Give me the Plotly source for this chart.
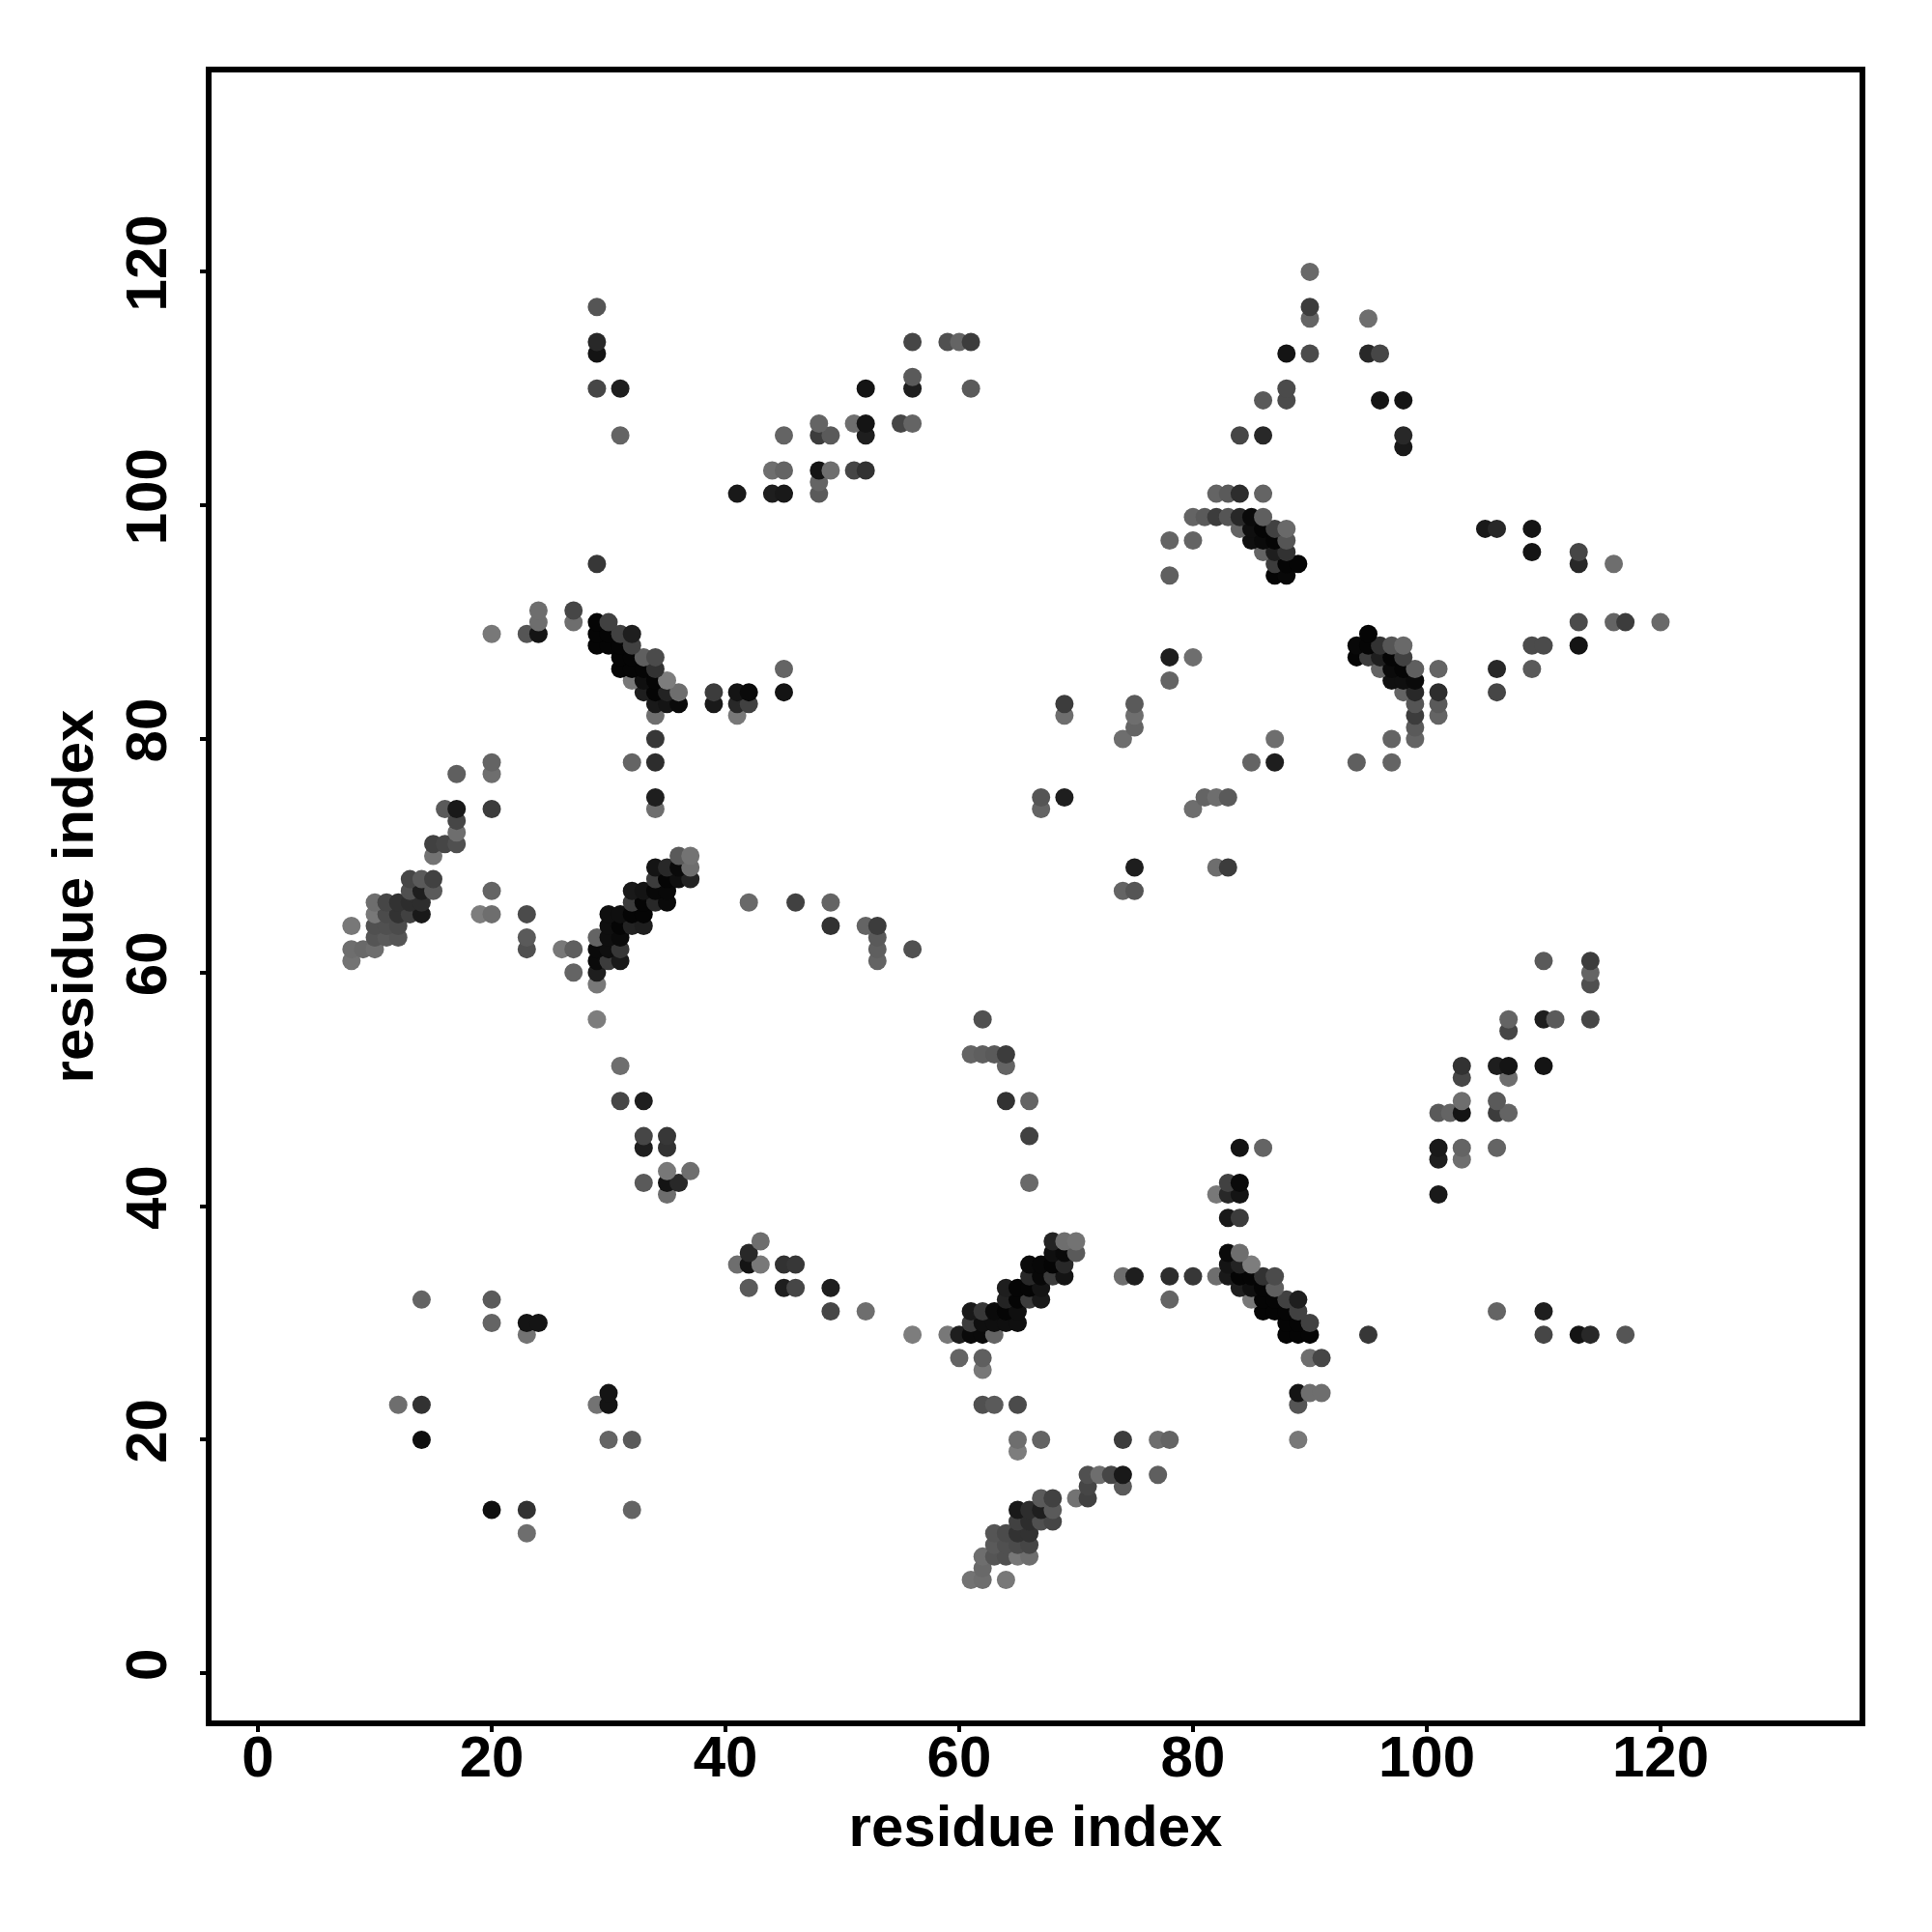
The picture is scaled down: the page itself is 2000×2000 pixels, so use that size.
import plotly.graph_objects as go

tick_values = [0, 20, 40, 60, 80, 100, 120]
axis_title = "residue index"

n_term_i = [8,8,8,9,10,10,10,10,10,11,11,11,11,12,12,12,12,13,13,13,13,14,14,14,14,15,15,15,15,16,16,17,17,17,17,17]
n_term_j = [61,62,64,62,62,63,64,65,66,63,64,65,66,63,64,65,66,65,66,67,68,65,66,67,68,67,68,70,71,71,74,71,72,73,74,77]
n_term_g = [115,110,120,105,110,85,80,120,110,90,80,75,70,85,75,50,50,65,45,80,70,25,45,30,90,90,65,115,65,70,90,80,110,70,25,95]

early_i = [12,14,14,14,20,20,23,24,23,19,20,20,20,20,20,23,23,23,26,27,27,20,23,24,24,24,27,27]
early_j = [23,23,20,32,32,30,30,30,29,65,65,67,74,77,78,62,63,65,62,62,60,89,89,89,90,91,90,91]
early_g = [110,50,15,100,90,100,20,20,115,125,110,100,60,110,100,80,90,75,120,95,100,120,85,20,110,110,110,70]

helix_i = [29,29,29,29,29,29,30,30,30,30,30,31,31,31,31,31,32,32,32,32,33,33,33,33,34,34,34,34,35,35,35,35,36,36,36,37,37,37]
helix_j = [56,59,60,61,62,63,61,62,63,64,65,61,62,63,64,65,64,65,66,67,64,65,66,67,66,67,68,69,66,67,68,69,68,69,70,68,69,70]
helix_g = [125,120,30,10,10,100,60,15,15,15,15,25,55,10,5,15,35,5,60,25,30,5,5,20,40,8,60,20,10,8,5,40,15,10,90,35,110,115]

band_i = [29,29,29,30,30,30,31,31,31,31,32,32,32,32,32,33,33,33,33,34,34,34,34,34,34,35,35,35,36,36]
band_j = [88,89,90,88,89,90,86,87,88,89,85,86,87,88,89,84,85,86,87,82,83,84,85,86,87,83,84,85,83,84]
band_g = [5,5,5,5,5,65,5,5,5,65,120,5,5,65,30,30,15,5,95,110,25,5,5,50,75,20,35,125,10,110]

spur_i = [32,34,34,34,34,29,29,29,29,29,31,31,39,39,41,41,41,42,42,45,45]
spur_j = [78,78,80,74,75,95,110,113,114,117,106,110,83,84,82,83,84,83,84,84,86]
spur_g = [100,45,55,110,30,55,70,20,40,85,100,30,25,60,120,40,20,65,10,20,100]

loop_i = [31,31,33,33,33,33,35,35,35,35,35,36,37,42,46,49,49,52,53,53,53,53,56]
loop_j = [49,52,42,45,46,49,41,42,43,45,46,42,43,66,66,64,66,64,61,62,63,64,62]
loop_g = [70,110,90,30,70,30,110,20,120,50,55,40,110,105,65,50,100,100,100,95,90,60,80]

sheet_i = [41,44,45,44,45,45,48,48,48,49,48,48,49,51,51,52,52,52,52,55,56,56,56,56,59,60,61,61]
sheet_j = [101,101,101,103,103,106,101,102,103,103,106,107,106,107,103,103,106,107,110,107,107,110,111,114,114,114,114,110]
sheet_g = [25,30,25,110,100,100,90,100,20,110,60,100,90,110,70,50,30,20,20,70,100,30,90,70,80,100,60,90]

mid_i = [67,67,69,69,69,74,75,75,75,78,78,80]
mid_j = [74,75,75,82,83,80,81,82,83,85,87,87]
mid_g = [100,85,30,110,60,110,100,110,90,100,30,110]

turn_i = [78,78,80,80,81,82,83,84,85,86,82,83,84,86,84,85,86,87,88,85,86,87,88,86,87,88,87,88,89,87,88]
turn_j = [94,97,97,99,99,99,99,99,99,99,101,101,101,101,98,98,98,98,98,97,97,97,97,96,96,96,95,95,95,94,94]
turn_g = [95,100,100,110,100,60,85,40,10,95,100,90,45,100,100,15,5,65,105,15,10,5,85,100,30,50,60,5,5,5,8]

right_i = [99,99,84,86,86,88,88,88,90,90,90,90,95,96,95,96,98,98,98]
right_j = [80,81,106,106,109,109,110,113,113,116,117,120,113,113,116,109,109,106,105]
right_g = [100,90,70,40,90,75,75,20,75,100,60,105,40,70,110,20,20,40,25]

groups = [
    (n_term_i, n_term_j, n_term_g), (early_i, early_j, early_g),
    (helix_i, helix_j, helix_g), (band_i, band_j, band_g),
    (spur_i, spur_j, spur_g), (loop_i, loop_j, loop_g),
    (sheet_i, sheet_j, sheet_g), (mid_i, mid_j, mid_g),
    (turn_i, turn_j, turn_g), (right_i, right_j, right_g),
]
seen = {}
for a, b, g in groups:
    for p, q, v in zip(a, b, g):
        seen[(p, q)] = v
        seen[(q, p)] = v
keys = sorted(seen, key=lambda k: (k[1], k[0]))
xs = [k[0] for k in keys]
ys = [k[1] for k in keys]
cols = [f"rgb({seen[k]},{seen[k]},{seen[k]})" for k in keys]

fig = go.Figure(go.Scatter(x=xs, y=ys, mode="markers", hoverinfo="skip",
                           marker=dict(size=19, color=cols, line=dict(width=0))))

font_tick = dict(family="Liberation Sans", size=60, color="black", weight="bold")
font_title = dict(family="Liberation Sans", size=60, color="black", weight="bold")
common = dict(tickvals=tick_values, ticks="outside", ticklen=6, tickwidth=3.5, tickcolor="black",
              showline=True, linecolor="black", linewidth=6, mirror=True, showgrid=False, zeroline=False,
              tickfont=font_tick)
fig.update_xaxes(range=[-3.97, 137.03], ticklabelstandoff=-26,
                 title=dict(text=axis_title, font=font_title, standoff=20), **common)
fig.update_yaxes(range=[-4.03, 137.07], tickangle=-90, ticklabelstandoff=11,
                 title=dict(text=axis_title, font=font_title, standoff=4), **common)
fig.update_layout(width=2000, height=2000, paper_bgcolor="white", plot_bgcolor="white", showlegend=False,
                  margin=dict(l=219, r=75, t=75, b=219, autoexpand=False))
fig.write_html("out.html", config=dict(displayModeBar=False),
               post_script="document.body.style.margin='0';")
